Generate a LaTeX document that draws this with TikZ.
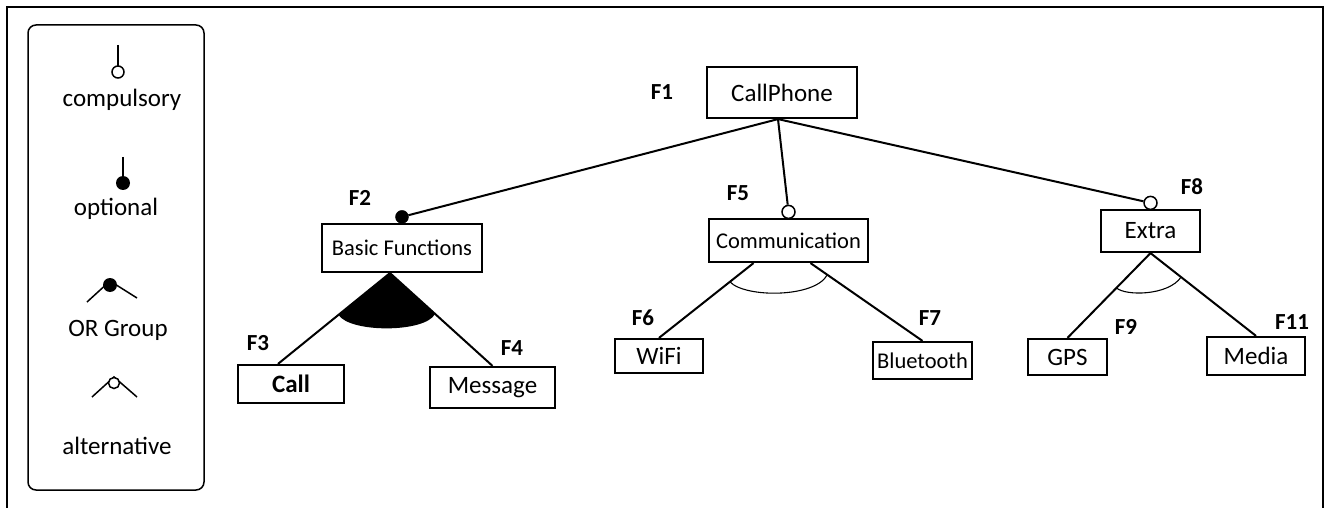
\documentclass[tikz,border=0pt]{standalone}
\usepackage{fontspec}
\setmainfont{Carlito}
\usetikzlibrary{calc}

\begin{document}
\begin{tikzpicture}[x=1pt,y=-1pt,
  feat/.style={draw,line width=2.2pt,inner sep=0pt,font=\fontsize{25}{29}\selectfont},
  featsm/.style={feat,font=\fontsize{22.5}{27}\selectfont},
  fid/.style={font=\bfseries\fontsize{23}{27}\selectfont},
  edge/.style={line width=2pt},
  mand/.style={draw,fill=white,line width=1.5pt,circle,inner sep=0pt,minimum size=13pt},
  opt/.style={draw,fill=black,circle,inner sep=0pt,minimum size=13pt},
  leg/.style={font=\fontsize{25}{29}\selectfont},
  legline/.style={line width=1.5pt}]
  \useasboundingbox (0,0) rectangle (1326,508);
  % Rahmen
  \draw[line width=2.8pt] (7,508) -- (7,7) -- (1323,7) -- (1323,508);

  % Legende
  \draw[line width=1.5pt,rounded corners=8pt] (28,25) rectangle (204,490);
  \draw[legline] (118,45) -- (118,66);
  \draw[legline,fill=white] (118,72) circle (6pt);
  \node[leg] (lcomp) at (122,100) {compulsory};
  \draw[legline] (123,157) -- (123,177);
  \fill (123,183) circle (7pt);
  \node[leg] (lopt) at (116,209) {optional};
  \draw[legline] (87,302) -- (110,281) -- (137,298);
  \fill (110,285) circle (7pt);
  \node[leg] (lor) at (118,330) {OR Group};
  \draw[legline] (92,397) -- (114,377) -- (137,397);
  \draw[legline,fill=white] (114,383) circle (5.5pt);
  \node[leg] (lalt) at (117,446) {alternative};

  % Merkmale
  \node[feat,minimum width=150pt,minimum height=51pt] (cp) at (782,92.5) {CallPhone};
  \node[featsm,minimum width=160pt,minimum height=48pt] (bf) at (402,248) {Basic Functions};
  \node[feat,minimum width=106pt,minimum height=38pt,font=\bfseries\fontsize{25}{29}\selectfont] (call) at (291,384) {Call};
  \node[feat,minimum width=125pt,minimum height=41pt] (msg) at (492.5,387.5) {Message};
  \node[featsm,minimum width=159pt,minimum height=43pt] (com) at (788.5,240.5) {Communication};
  \node[feat,minimum width=88pt,minimum height=34pt] (wifi) at (659,356) {WiFi};
  \node[featsm,minimum width=99pt,minimum height=37pt] (bt) at (922.5,360.5) {Bluetooth};
  \node[feat,minimum width=99pt,minimum height=42pt] (ex) at (1150.5,231) {Extra};
  \node[feat,minimum width=79pt,minimum height=36pt] (gps) at (1067.5,357) {GPS};
  \node[feat,minimum width=98pt,minimum height=38pt] (media) at (1256,356) {Media};

  % Kennungen
  \node[fid] (f1) at (662,92) {F1};
  \node[fid] (f2) at (360,198) {F2};
  \node[fid] (f3) at (258,343) {F3};
  \node[fid] (f4) at (512,348) {F4};
  \node[fid] (f5) at (738,193) {F5};
  \node[fid] (f6) at (643,318) {F6};
  \node[fid] (f7) at (930,318) {F7};
  \node[fid] (f8) at (1192,187) {F8};
  \node[fid] (f9) at (1126,327) {F9};
  \node[fid] (f11) at (1292,322) {F11};

  % Kanten zur Wurzel
  \node[opt] (d2) at ($(bf.north)+(0,-6)$) {};
  \node[mand] (d5) at ($(com.north)+(0,-6)$) {};
  \node[mand] (d8) at ($(ex.north)+(0,-6)$) {};
  \draw[edge] ([xshift=-4pt]cp.south) -- (d2);
  \draw[edge] ([xshift=-4pt]cp.south) -- (d5);
  \draw[edge] ([xshift=-4pt]cp.south) -- (d8);

  % OR-Gruppe
  \coordinate (g2) at ([xshift=-12pt]bf.south);
  \coordinate (c3) at ([xshift=-13pt]call.north);
  \draw[edge] (g2) -- (c3);
  \draw[edge] (g2) -- (msg.north);
  \coordinate (g2l) at ($(g2)!0.46!(c3)$);
  \coordinate (g2r) at ($(g2)!0.44!(msg.north)$);
  \fill (g2) -- (g2l) .. controls (350,333) and (425,333) .. (g2r) -- cycle;

  % Alternativen
  \coordinate (g5a) at ([xshift=-35pt]com.south);
  \coordinate (g5b) at ([xshift=22pt]com.south);
  \draw[edge] (g5a) -- (wifi.north);
  \draw[edge] (g5b) -- (bt.north);
  \coordinate (g5l) at ($(g5a)!0.25!(wifi.north)$);
  \coordinate (g5r) at ($(g5b)!0.15!(bt.north)$);
  \draw[line width=1.1pt] (g5l) .. controls (745,298) and (815,298) .. (g5r);

  \draw[edge] (ex.south) -- (gps.north);
  \draw[edge] (ex.south) -- (media.north);
  \coordinate (g8l) at ($(ex.south)!0.41!(gps.north)$);
  \coordinate (g8r) at ($(ex.south)!0.29!(media.north)$);
  \draw[line width=1.1pt] (g8l) .. controls (1125,296) and (1168,296) .. (g8r);
\end{tikzpicture}
\end{document}
